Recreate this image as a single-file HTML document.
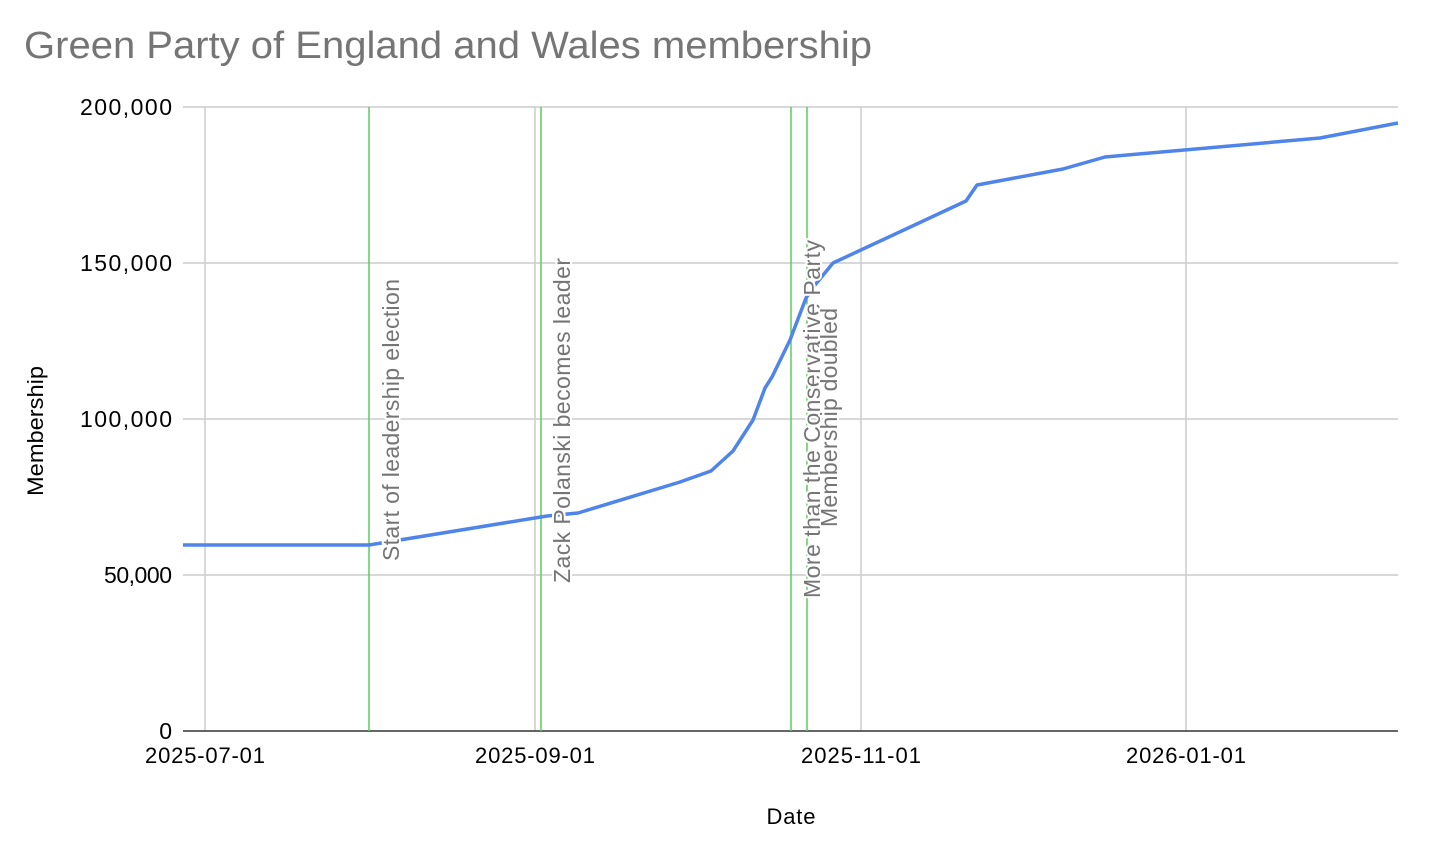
<!DOCTYPE html>
<html><head><meta charset="utf-8"><style>
html,body{margin:0;padding:0;background:#fff;}
svg{display:block;font-family:"Liberation Sans",Arial,sans-serif;}
</style></head><body>
<svg width="1430" height="848" viewBox="0 0 1430 848" xmlns="http://www.w3.org/2000/svg">
<rect width="1430" height="848" fill="#fff"/>
<text x="24" y="58" font-size="38" fill="#757575" textLength="848" lengthAdjust="spacingAndGlyphs">Green Party of England and Wales membership</text>
<g stroke="#cccccc" stroke-width="1.5">
<line x1="183" y1="107" x2="1398" y2="107"/>
<line x1="183" y1="263" x2="1398" y2="263"/>
<line x1="183" y1="419" x2="1398" y2="419"/>
<line x1="183" y1="575" x2="1398" y2="575"/>
<line x1="205" y1="107" x2="205" y2="731"/>
<line x1="535" y1="107" x2="535" y2="731"/>
<line x1="861" y1="107" x2="861" y2="731"/>
<line x1="1186" y1="107" x2="1186" y2="731"/>
</g>
<line x1="183" y1="731" x2="1398" y2="731" stroke="#333" stroke-width="1.5"/>
<g stroke="#5ccd5c" stroke-width="1.5">
<line x1="369" y1="107" x2="369" y2="731"/>
<line x1="541" y1="107" x2="541" y2="731"/>
<line x1="791" y1="107" x2="791" y2="731"/>
<line x1="807" y1="107" x2="807" y2="731"/>
</g>
<polyline fill="none" stroke="#4f84e8" stroke-width="3.5" stroke-linejoin="round" points="183,545 369,545 547,516 578,513 680,482 711,471 733,451 753,420 765,388 772,377 790,340 806,298 815,285 833,263 966,201 977,185 1063,169 1105,157 1320,138 1398,123"/>
<g font-size="23" fill="#757575" stroke="#fff" stroke-width="4" paint-order="stroke" stroke-linejoin="round" lengthAdjust="spacingAndGlyphs">
<text transform="translate(399,561) rotate(-90)" textLength="282">Start of leadership election</text>
<text transform="translate(570,583) rotate(-90)" textLength="325">Zack Polanski becomes leader</text>
<text transform="translate(820,598) rotate(-90)" textLength="358">More than the Conservative Party</text>
<text transform="translate(837,527) rotate(-90)" textLength="219">Membership doubled</text>
</g>
<g font-size="23" fill="#000" text-anchor="end" lengthAdjust="spacingAndGlyphs">
<text x="172" y="115" textLength="92">200,000</text>
<text x="172" y="271" textLength="92">150,000</text>
<text x="172" y="427" textLength="92">100,000</text>
<text x="172" y="583" textLength="68">50,000</text>
<text x="172" y="739">0</text>
</g>
<g font-size="22" fill="#000" text-anchor="middle" lengthAdjust="spacingAndGlyphs">
<text x="205" y="763" textLength="120">2025-07-01</text>
<text x="535" y="763" textLength="120">2025-09-01</text>
<text x="861" y="763" textLength="120">2025-11-01</text>
<text x="1186" y="763" textLength="120">2026-01-01</text>
<text x="791" y="824" textLength="49">Date</text>
</g>
<text transform="translate(43,431) rotate(-90)" font-size="22" text-anchor="middle" fill="#000" textLength="130" lengthAdjust="spacingAndGlyphs">Membership</text>
</svg>
</body></html>
